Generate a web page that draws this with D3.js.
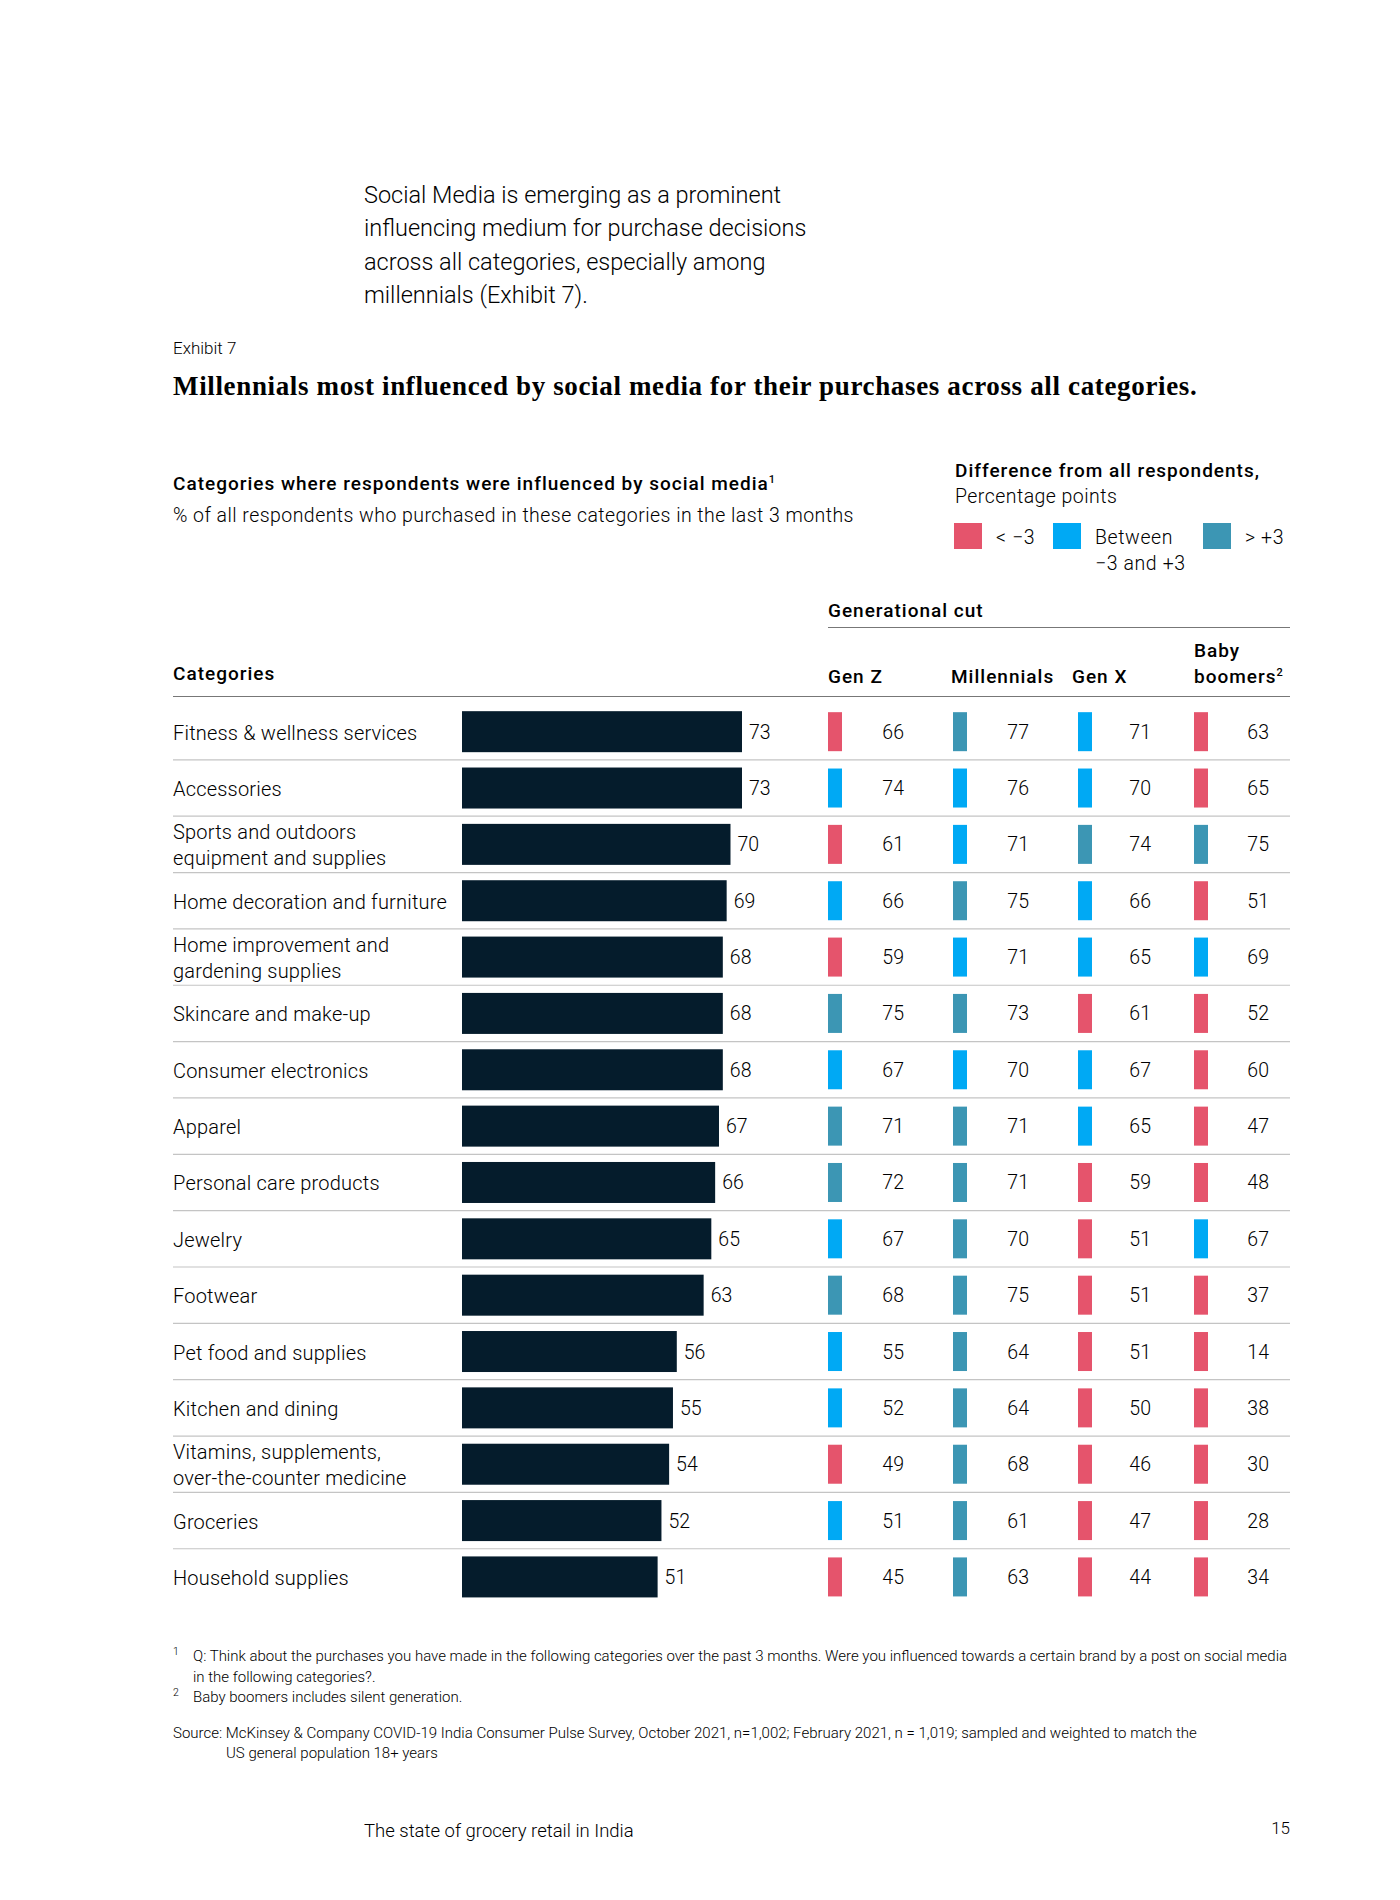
<!DOCTYPE html>
<html lang="en">
<head>
  <meta charset="UTF-8">
  <title>Exhibit 7 – Social media influence by generation</title>
  <script src="https://d3js.org/d3.v7.min.js"></script>
  <style>
      body { margin: 0; padding: 0; background: #fff; }
      svg { display: block; }
      text { font-family: Roboto, "Liberation Sans", sans-serif; fill: #000; }
      .light { font-weight: 300; }
      .medium { font-weight: 500; letter-spacing: 1px; }
      .serif { font-family: "Liberation Serif", "DejaVu Serif", serif; font-weight: 700; }
  </style>
</head>
<body>
  <svg width="1400" height="1900" viewBox="0 0 1400 1900"></svg>
  <script>
      const categories = [
          "Fitness & wellness services",
          "Accessories",
          "Sports and outdoors|equipment and supplies",
          "Home decoration and furniture",
          "Home improvement and|gardening supplies",
          "Skincare and make-up",
          "Consumer electronics",
          "Apparel",
          "Personal care products",
          "Jewelry",
          "Footwear",
          "Pet food and supplies",
          "Kitchen and dining",
          "Vitamins, supplements,|over-the-counter medicine",
          "Groceries",
          "Household supplies"
      ];
      const allRespondents = [73, 73, 70, 69, 68, 68, 68, 67, 66, 65, 63, 56, 55, 54, 52, 51];
      const genZ        = [66, 74, 61, 66, 59, 75, 67, 71, 72, 67, 68, 55, 52, 49, 51, 45];
      const millennials = [77, 76, 71, 75, 71, 73, 70, 71, 71, 70, 75, 64, 64, 68, 61, 63];
      const genX        = [71, 70, 74, 66, 65, 61, 67, 65, 59, 51, 51, 51, 50, 46, 47, 44];
      const boomers     = [63, 65, 75, 51, 69, 52, 60, 47, 48, 67, 37, 14, 38, 30, 28, 34];
      const generations = ["Gen Z", "Millennials", "Gen X", "Baby boomers"];
      const genSeries = [genZ, millennials, genX, boomers];
      const legendLabels = [["< \u22123"], ["Between", "\u22123 and +3"], ["> +3"]];

      const svg = d3.select("svg");
      svg.append("rect").attr("width", 1400).attr("height", 1900).attr("fill", "#fff");

      const left = 173, right = 1290;
      const colRed = "#e5546c", colBlue = "#00a9f4", colTeal = "#3c96b4", colBar = "#051c2c";

      // difference from all respondents -> colour
      const diffColor = d3.scaleThreshold().domain([-3, 4]).range([colRed, colBlue, colTeal]);

      // ---- intro paragraph ----
      const intro = ["Social Media is emerging as a prominent",
                     "influencing medium for purchase decisions",
                     "across all categories, especially among",
                     "millennials (Exhibit 7)."];
      svg.append("g").selectAll("text").data(intro).join("text")
          .attr("class", "light")
          .attr("x", 364)
          .attr("y", (d, i) => 203 + i * 33.4)
          .attr("font-size", 23.5)
          .text(d => d);

      svg.append("text").attr("class", "light")
          .attr("x", left).attr("y", 354).attr("font-size", 17)
          .text("Exhibit 7");

      svg.append("text").attr("class", "serif")
          .attr("x", left).attr("y", 395).attr("font-size", 27).attr("letter-spacing", 0.65)
          .text("Millennials most influenced by social media for their purchases across all categories.");

      // ---- chart subtitle ----
      const sub = svg.append("text").attr("class", "medium")
          .attr("x", left).attr("y", 490).attr("font-size", 19);
      sub.append("tspan").text("Categories where respondents were influenced by social media");
      sub.append("tspan").attr("font-size", 11).attr("dy", -7).text("1");

      svg.append("text").attr("class", "light")
          .attr("x", left).attr("y", 522).attr("font-size", 19.5).attr("letter-spacing", 0.45)
          .text("% of all respondents who purchased in these categories in the last 3 months");

      // ---- legend ----
      svg.append("text").attr("class", "medium")
          .attr("x", 955).attr("y", 477).attr("font-size", 19)
          .text("Difference from all respondents,");
      svg.append("text").attr("class", "light")
          .attr("x", 955).attr("y", 503).attr("font-size", 19.5).attr("letter-spacing", 0.45)
          .text("Percentage points");

      const legendX = d3.scaleOrdinal().domain([0, 1, 2]).range([954, 1053, 1203]);
      const legend = svg.append("g").selectAll("g").data(diffColor.range()).join("g")
          .attr("transform", (d, i) => `translate(${legendX(i)},523)`);
      legend.append("rect").attr("width", 28).attr("height", 26).attr("fill", d => d);
      legend.each(function(d, i) {
          d3.select(this).selectAll("text").data(legendLabels[i]).join("text")
              .attr("class", "light")
              .attr("x", 42).attr("y", (t, j) => 21 + j * 26)
              .attr("font-size", 19.5).attr("letter-spacing", 0.6)
              .text(t => t);
      });

      // ---- table headers ----
      svg.append("text").attr("class", "medium")
          .attr("x", 828).attr("y", 617).attr("font-size", 19)
          .text("Generational cut");
      svg.append("line").attr("x1", 828).attr("x2", right).attr("y1", 627.5).attr("y2", 627.5)
          .attr("stroke", "#777").attr("stroke-width", 1.2);

      svg.append("text").attr("class", "medium")
          .attr("x", left).attr("y", 680).attr("font-size", 19)
          .text("Categories");

      const headX = d3.scaleOrdinal().domain(generations).range([828, 951, 1072, 1194]);
      const heads = svg.append("g").selectAll("text").data(generations).join("text")
          .attr("class", "medium")
          .attr("x", d => headX(d)).attr("y", 683).attr("font-size", 19);
      heads.filter(d => d !== "Baby boomers").text(d => d);
      const bb = heads.filter(d => d === "Baby boomers");
      bb.append("tspan").attr("x", headX("Baby boomers")).attr("dy", -26).text("Baby");
      bb.append("tspan").attr("x", headX("Baby boomers")).attr("dy", 26).text("boomers");
      bb.append("tspan").attr("font-size", 11).attr("dy", -7).text("2");

      svg.append("line").attr("x1", left).attr("x2", right).attr("y1", 696.5).attr("y2", 696.5)
          .attr("stroke", "#777").attr("stroke-width", 1.2);

      // ---- rows ----
      const y = d3.scaleBand().domain(categories).range([703.5, 703.5 + 16 * 56.35]);
      const x = d3.scaleLinear().domain([0, 73]).range([0, 280]);
      const barLeft = 462, barH = 41;

      const rows = svg.append("g").selectAll("g").data(categories).join("g")
          .attr("transform", d => `translate(0,${y(d) + y.bandwidth() / 2})`);

      // separators (none under the last row)
      rows.filter((d, i) => i < categories.length - 1).append("line")
          .attr("x1", left).attr("x2", right)
          .attr("y1", y.bandwidth() / 2).attr("y2", y.bandwidth() / 2)
          .attr("stroke", "#c4c4c4").attr("stroke-width", 1.2);

      rows.each(function(d) {
          const lines = d.split("|");
          d3.select(this).selectAll("text.cat").data(lines).join("text")
              .attr("class", "cat light")
              .attr("x", left)
              .attr("y", (t, j) => 8 + (j - (lines.length - 1) / 2) * 26)
              .attr("font-size", 20).attr("letter-spacing", 0.2)
              .text(t => t);
      });

      rows.append("rect")
          .attr("x", barLeft).attr("y", -barH / 2)
          .attr("width", (d, i) => x(allRespondents[i])).attr("height", barH)
          .attr("fill", colBar);

      rows.append("text").attr("class", "light")
          .attr("x", (d, i) => barLeft + x(allRespondents[i]) + 7)
          .attr("y", 7).attr("font-size", 19.5)
          .text((d, i) => allRespondents[i]);

      const swatchX = d3.scaleOrdinal().domain(generations).range([828, 953, 1078, 1194]);
      const valueX = d3.scaleOrdinal().domain(generations).range([904, 1029, 1151, 1269]);

      rows.each(function(d, i) {
          const g = d3.select(this);
          const cells = generations.map((gen, k) => ({ gen, v: genSeries[k][i], diff: genSeries[k][i] - allRespondents[i] }));
          g.selectAll("rect.sw").data(cells).join("rect")
              .attr("class", "sw")
              .attr("x", c => swatchX(c.gen)).attr("y", -19.5)
              .attr("width", 14).attr("height", 39)
              .attr("fill", c => diffColor(c.diff));
          g.selectAll("text.val").data(cells).join("text")
              .attr("class", "val light")
              .attr("x", c => valueX(c.gen)).attr("y", 7)
              .attr("text-anchor", "end").attr("font-size", 19.5)
              .text(c => c.v);
      });

      // ---- footnotes ----
      const notes = svg.append("g").attr("class", "light").attr("font-size", 15);
      notes.append("text").attr("x", left).attr("y", 1655).attr("font-size", 10.5).text("1");
      notes.append("text").attr("x", 193).attr("y", 1661).attr("class", "light")
          .text("Q: Think about the purchases you have made in the following categories over the past 3 months. Were you influenced towards a certain brand by a post on social media");
      notes.append("text").attr("x", 193).attr("y", 1682).attr("class", "light")
          .text("in the following categories?.");
      notes.append("text").attr("x", left).attr("y", 1696).attr("font-size", 10.5).text("2");
      notes.append("text").attr("x", 193).attr("y", 1702).attr("class", "light")
          .text("Baby boomers includes silent generation.");
      notes.append("text").attr("x", left).attr("y", 1738).attr("class", "light")
          .text("Source: McKinsey & Company COVID-19 India Consumer Pulse Survey, October 2021, n=1,002; February 2021, n = 1,019; sampled and weighted to match the");
      notes.append("text").attr("x", 226).attr("y", 1758).attr("class", "light")
          .text("US general population 18+ years");

      // ---- page footer ----
      svg.append("text").attr("class", "light")
          .attr("x", 364).attr("y", 1837).attr("font-size", 18.5)
          .text("The state of grocery retail in India");
      svg.append("text").attr("class", "light")
          .attr("x", right).attr("y", 1834).attr("font-size", 17).attr("text-anchor", "end")
          .text("15");
  </script>
</body>
</html>
